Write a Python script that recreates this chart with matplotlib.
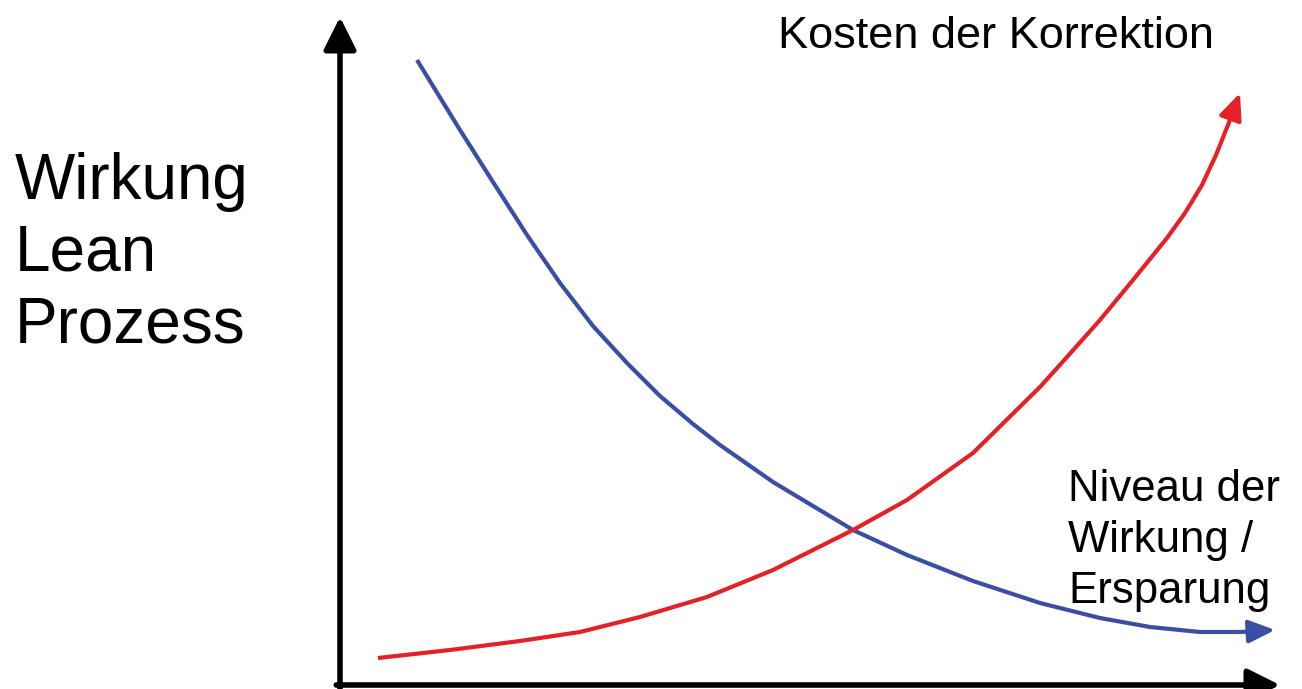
#!/usr/bin/python3
# -*- coding: UTF-8 -*-

import matplotlib
matplotlib.use('Agg')
import matplotlib.pyplot as plt

plt.rcParams['font.family'] = ['Liberation Sans', 'DejaVu Sans']

# Kurven (Einheiten ab Achsenursprung)
niveau_x = [77, 120, 153, 187, 220, 253, 287, 320, 353, 380, 433, 513, 567, 633, 700, 760, 810, 860, 900, 935]
niveau_y = [625, 555, 503, 450, 402, 359, 322, 289, 261, 240, 203, 155, 130, 104, 82, 67, 58, 53, 53, 55]
kosten_x = [38, 110, 180, 240, 300, 367, 433, 513, 567, 633, 700, 727, 760, 793, 827, 845, 862, 876, 888, 900]
kosten_y = [27, 35, 44, 53, 68, 88, 115, 155, 185, 232, 298, 328, 365, 405, 447, 472, 500, 530, 560, 592]

label_y = 'Wirkung\nLean\nProzess'
label_kosten = 'Kosten der Korrektion'
label_niveau = 'Niveau der\nWirkung /\nErsparung'

blue = '#3B4EA3'
red = '#E32228'
W, H = 1302, 689

fig = plt.figure(figsize=(W/100, H/100), dpi=100)
ax = fig.add_axes([340/W, 4/H, 940/W, 668/H])
ax.set_xlim(0, 940)
ax.set_ylim(0, 668)
ax.axis('off')

# Achsen mit Pfeilen
arr = dict(arrowstyle='-|>,head_length=0.9,head_width=0.45', color='black', lw=4,
           mutation_scale=22, shrinkA=0, shrinkB=0)
ax.annotate('', xy=(0, 1), xytext=(0, -0.005), xycoords='axes fraction', arrowprops=arr,
            annotation_clip=False)
ax.annotate('', xy=(1, 0), xytext=(-0.004, 0), xycoords='axes fraction', arrowprops=arr,
            annotation_clip=False)

def curve(xs, ys, c):
   ax.plot(xs[:-1], ys[:-1], color=c, lw=3, solid_capstyle='butt',
           solid_joinstyle='round', clip_on=False)
   ax.annotate('', xy=(xs[-1], ys[-1]), xytext=(xs[-2], ys[-2]),
               arrowprops=dict(arrowstyle='-|>,head_length=0.8,head_width=0.35', color=c,
                               lw=3, mutation_scale=20, shrinkA=0, shrinkB=0),
               annotation_clip=False)

curve(niveau_x, niveau_y, blue)
curve(kosten_x, kosten_y, red)

# va='baseline' bezieht sich bei mehrzeiligem Text auf die letzte Zeile
fig.text(15/W, 1 - 343/H, label_y, fontsize=46, va='baseline', ha='left', linespacing=1.26)
fig.text(778/W, 1 - 48/H, label_kosten, fontsize=32.5, va='baseline', ha='left')
fig.text(1068/W, 1 - 603/H, label_niveau, fontsize=31.5, va='baseline', ha='left',
         linespacing=1.31)

fig.savefig('out.png', dpi=100)
